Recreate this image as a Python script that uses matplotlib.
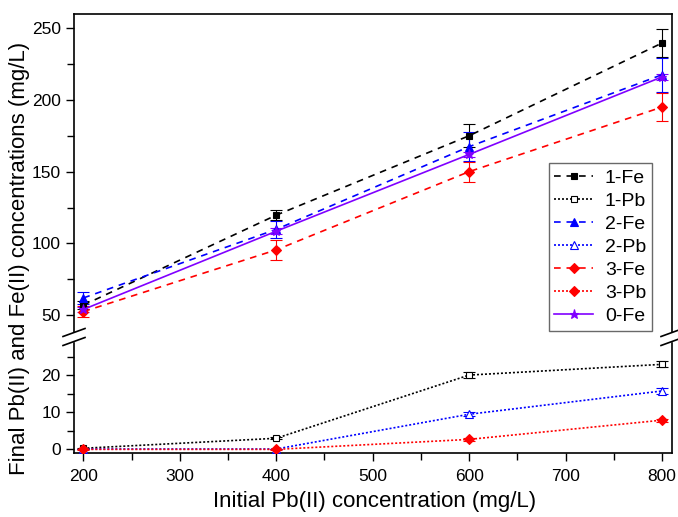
import matplotlib
matplotlib.use("Agg")
import matplotlib.pyplot as plt
from matplotlib.lines import Line2D
from matplotlib.ticker import MultipleLocator, FixedLocator

plt.rcParams["font.family"] = ["Liberation Sans", "DejaVu Sans"]

# data
x = [200, 400, 600, 800]

fe1 = [57, 119.7, 175, 239.6]
fe1_err = [3, 3.5, 8, 10]
fe2 = [62, 109.8, 167.4, 217.5]
fe2_err = [4, 6, 10, 12]
fe3 = [52.5, 95.5, 150, 195]
fe3_err = [4, 7, 7, 9.5]
fe0 = [54, 108.5, 162, 216]
fe0_err = [2, 2, 2, 2]

pb1 = [0.3, 3.0, 20.1, 23.0]
pb1_err = [0.2, 0.3, 0.8, 0.8]
pb2 = [0.1, 0.1, 9.5, 15.8]
pb2_err = [0.1, 0.1, 0.5, 0.7]
pb3 = [0.0, 0.0, 2.7, 7.9]
pb3_err = [0.1, 0.1, 0.3, 0.4]

W, H = 678, 517
fig = plt.figure(figsize=(W / 100, H / 100), dpi=100)

left, right = 74 / W, 672 / W
y_top, y_brk, y_bot = 13.5, 337, 452.7
ax_top = fig.add_axes([left, 1 - y_brk / H, right - left, (y_brk - y_top) / H])
ax_bot = fig.add_axes([left, 1 - y_bot / H, right - left, (y_bot - y_brk) / H])

DASH = (4, 3.5)
DOT = (1.2, 1.2)

series_top = [
    ("1-Fe", fe1, fe1_err, "black", "s", DASH, "black", 4.5),
    ("2-Fe", fe2, fe2_err, "#0000ff", "^", DASH, "#0000ff", 6),
    ("3-Fe", fe3, fe3_err, "#ff0000", "D", DASH, "#ff0000", 5),
    ("0-Fe", fe0, fe0_err, "#8000ff", "*", None, "#8000ff", 6.5),
]
series_bot = [
    ("1-Pb", pb1, pb1_err, "black", "s", DOT, "white", 4.5),
    ("2-Pb", pb2, pb2_err, "#0000ff", "^", DOT, "white", 6),
    ("3-Pb", pb3, pb3_err, "#ff0000", "D", DOT, "#ff0000", 5),
]

handles = {}
for ax, series in [(ax_top, series_top), (ax_bot, series_bot)]:
    for name, vals, err, col, mk, dash, face, ms in series:
        ax.errorbar(x, vals, yerr=err, fmt="none", ecolor=col, elinewidth=0.8,
                    capsize=4, capthick=0.8, zorder=2)
        line, = ax.plot(x, vals, color=col, lw=1.2, marker=mk, ms=ms,
                        mfc=face, mec=col, mew=0.8, label=name, zorder=3)
        if dash is not None:
            line.set_dashes(dash)
        handles[name] = line

for ax in (ax_top, ax_bot):
    ax.set_xlim(190.3, 810.4)
    for s in ax.spines.values():
        s.set_linewidth(1.2)
    ax.tick_params(axis="both", which="both", direction="out", labelsize=12.5,
                   right=False, top=False, width=1.0)
    ax.tick_params(which="major", length=6)
    ax.tick_params(which="minor", length=5)
    ax.tick_params(axis="x", pad=6)

ax_top.spines["bottom"].set_visible(False)
ax_bot.spines["top"].set_visible(False)
ax_top.tick_params(axis="x", which="both", bottom=False, labelbottom=False)
ax_top.yaxis.set_major_locator(FixedLocator([50, 100, 150, 200, 250]))
ax_top.yaxis.set_minor_locator(FixedLocator([75, 125, 175, 225]))
ax_bot.yaxis.set_major_locator(FixedLocator([0, 10, 20]))
ax_bot.yaxis.set_minor_locator(FixedLocator([5, 15, 25]))
ax_bot.xaxis.set_major_locator(MultipleLocator(100))
ax_bot.xaxis.set_minor_locator(MultipleLocator(50))
ax_top.set_ylim(34.8, 260.2)
ax_bot.set_ylim(-0.9, 30.4)

# break marks on both spines
yb = 1 - y_brk / H
for xs in (left, right):
    fig.add_artist(plt.Rectangle((xs - 2 / W, yb - 4 / H), 4 / W, 8 / H,
                                 transform=fig.transFigure, color="white", zorder=5))
    for dy in (-4.5, 4.5):
        fig.add_artist(Line2D([xs - 11 / W, xs + 11 / W],
                              [yb + (dy - 4) / H, yb + (dy + 4) / H],
                              transform=fig.transFigure, color="black", lw=1.2, zorder=6))

order = ["1-Fe", "1-Pb", "2-Fe", "2-Pb", "3-Fe", "3-Pb", "0-Fe"]
leg = ax_top.legend([handles[k] for k in order], order, loc="lower right",
                    bbox_to_anchor=(0.9666, 0.0185), fontsize=14, frameon=True,
                    fancybox=False, edgecolor="#444444", handlelength=2.0,
                    labelspacing=0.28, borderpad=0.3, handletextpad=0.6,
                    borderaxespad=0)
leg.get_frame().set_linewidth(1.0)
leg.set_zorder(10)

fig.text(375 / W, 1 - 501 / H, "Initial Pb(II) concentration (mg/L)",
         ha="center", va="center", fontsize=16)
fig.text(20 / W, 1 - 258 / H, "Final Pb(II) and Fe(II) concentrations (mg/L)",
         ha="center", va="center", rotation=90, fontsize=16)

fig.savefig("out.png", dpi=100)
